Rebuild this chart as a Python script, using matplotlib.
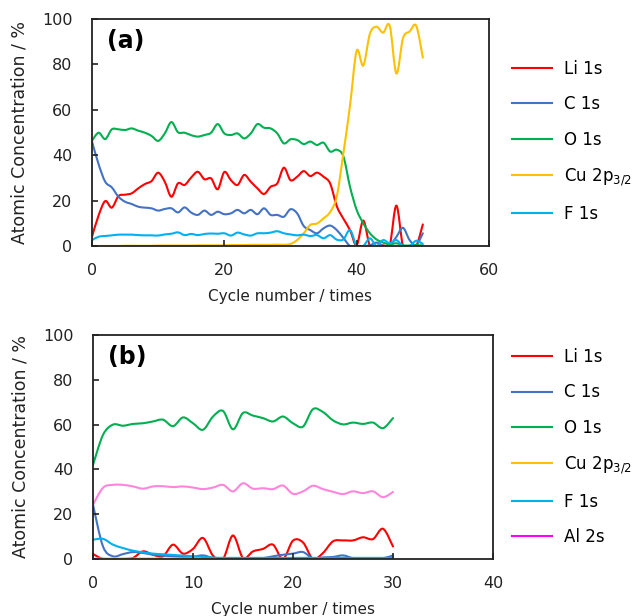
import matplotlib
matplotlib.use("Agg")
import matplotlib.pyplot as plt
from matplotlib.path import Path
from matplotlib.patches import PathPatch
from matplotlib.lines import Line2D

plt.rcParams['font.family'] = ['DejaVu Sans']
plt.rcParams['mathtext.fontset'] = 'dejavusans'

# ---------------- data: panel (a) ----------------
cycles_a = list(range(0, 51))
li_a = [4.1, 13.5, 19.8, 16.9, 22.0, 22.6, 23.2, 25.4, 27.3, 28.6, 32.3, 28.3, 21.7, 27.6, 26.9,
        30.2, 32.7, 29.4, 29.8, 25.0, 32.6, 29.0, 26.9, 31.3, 28.3, 25.4, 22.9, 26.1, 27.6, 34.5,
        29.0, 30.5, 33.0, 30.8, 32.3, 30.5, 27.5, 17.5, 12.0, 7.0, 0.4, 11.2, 0.0, 0.0, 0.3,
        0.3, 17.8, 0.0, 0.0, 0.0, 9.5]
c_a = [46.0, 36.0, 28.3, 25.8, 21.7, 19.5, 18.5, 17.3, 16.9, 16.6, 15.6, 16.3, 16.6, 14.8, 17.0,
       14.7, 13.7, 15.6, 13.7, 15.1, 14.0, 14.4, 15.9, 14.4, 15.9, 14.0, 16.6, 13.7, 13.7, 12.9,
       16.2, 14.4, 8.8, 7.0, 5.6, 7.8, 9.0, 7.0, 3.5, 0.0, 0.0, 0.0, 0.3, 1.5, 0.0,
       0.3, 4.0, 8.0, 2.6, 0.4, 5.6]
o_a = [46.4, 49.9, 47.1, 51.4, 51.4, 51.1, 51.8, 50.8, 49.9, 48.5, 46.3, 49.6, 54.6, 50.1, 49.9,
       48.8, 48.2, 48.9, 49.9, 53.7, 49.6, 48.9, 49.6, 47.4, 49.6, 53.7, 52.1, 51.8, 49.6, 45.2,
       47.0, 46.7, 44.9, 46.0, 44.5, 45.5, 41.6, 42.4, 39.4, 26.0, 15.9, 10.0, 5.6, 2.9, 1.5,
       0.7, 1.2, 0.3, 0.2, 0.4, 0.2]
cu_a = [0.0, 0.0, 0.0, 0.0, 0.0, 0.1, 0.1, 0.1, 0.1, 0.1, 0.2, 0.2, 0.2, 0.2, 0.2,
        0.2, 0.3, 0.3, 0.3, 0.3, 0.3, 0.4, 0.4, 0.4, 0.5, 0.5, 0.5, 0.5, 0.6, 0.5,
        0.9, 2.6, 5.6, 9.3, 9.9, 12.2, 15.0, 22.0, 41.0, 62.0, 86.0, 79.5, 93.5, 96.6, 94.0,
        97.0, 76.0, 91.5, 94.5, 97.0, 83.0]
f_a = [2.6, 4.1, 4.4, 4.7, 5.0, 5.0, 5.0, 4.8, 4.7, 4.7, 4.6, 5.1, 5.4, 6.0, 4.8,
       5.3, 4.8, 5.3, 5.5, 5.4, 5.6, 4.6, 5.9, 5.1, 4.6, 5.6, 5.6, 5.9, 6.5, 5.6,
       5.1, 4.7, 5.0, 4.4, 4.8, 3.4, 4.8, 2.8, 2.9, 7.0, 0.0, 0.0, 3.4, 0.0, 2.6,
       1.2, 2.6, 0.0, 0.0, 2.3, 0.9]

# ---------------- data: panel (b) ----------------
cycles_b = list(range(0, 31))
li_b = [2.2, 0.0, 0.0, 0.0, 0.5, 3.4, 1.9, 1.2, 6.4, 2.4, 4.5, 9.4, 1.5, 0.0, 10.5,
        0.5, 3.4, 4.5, 6.4, 0.0, 8.2, 7.4, 0.0, 2.7, 7.9, 8.3, 8.3, 9.7, 8.9, 13.5, 5.6]
c_b = [24.2, 5.6, 1.2, 2.2, 3.1, 2.7, 1.9, 1.5, 1.2, 0.9, 1.0, 1.6, 0.5, 0.4, 0.4,
       0.4, 0.4, 0.4, 1.2, 1.9, 2.4, 3.1, 0.2, 0.7, 0.9, 1.6, 0.4, 0.4, 0.3, 0.3, 1.6]
o_b = [42.0, 55.4, 60.0, 59.5, 60.3, 60.6, 61.4, 62.2, 59.3, 63.2, 60.6, 57.7, 63.6, 66.1, 57.9,
       65.2, 64.0, 62.9, 61.4, 63.6, 60.6, 59.1, 66.9, 65.6, 61.9, 60.1, 60.9, 60.3, 60.9, 58.4, 62.9]
cu_b = [0.2] * 31
f_b = [8.6, 9.0, 6.4, 4.9, 3.7, 3.0, 2.4, 2.1, 1.8, 1.5, 1.2, 0.9, 0.6, 0.5, 0.5,
       0.5, 0.5, 0.5, 0.5, 0.5, 0.5, 0.5, 0.5, 0.5, 0.5, 0.5, 0.5, 0.5, 0.5, 0.5, 0.5]
al_b = [24.2, 31.8, 33.1, 33.1, 32.4, 31.4, 32.4, 32.5, 32.1, 32.4, 31.9, 31.2, 31.9, 33.1, 30.2,
        33.8, 31.4, 31.6, 31.2, 32.8, 29.1, 30.2, 32.7, 31.2, 30.0, 29.0, 30.2, 29.4, 30.2, 27.6, 29.9]

labels = ['Li 1s', 'C 1s', 'O 1s', 'Cu 2p$_{3/2}$', 'F 1s', 'Al 2s']
colors = ['#FF0000', '#4472C4', '#00B050', '#FFC000', '#00B0F0', '#FF85DC']
legend_colors = ['#FF0000', '#4472C4', '#00B050', '#FFC000', '#00B0F0', '#FF00FF']
xticks_a = [0, 20, 40, 60]
xticks_b = [0, 10, 20, 30, 40]
yticks = [0, 20, 40, 60, 80, 100]

LW = 1.5
TICK_FS = 11.5
YLAB_FS = 12.5
XLAB_FS = 11
LEG_FS = 12
TXT = '#222222'


def smooth_line(ax, x, y, color):
    """Excel-like smoothed line: cubic Bezier segments through the data points."""
    n = len(x)
    verts = [(x[0], y[0])]
    codes = [Path.MOVETO]
    for i in range(n - 1):
        x0, y0 = (x[i - 1], y[i - 1]) if i > 0 else (x[i], y[i])
        x1, y1 = x[i], y[i]
        x2, y2 = x[i + 1], y[i + 1]
        x3, y3 = (x[i + 2], y[i + 2]) if i + 2 < n else (x2, y2)
        c1 = (x1 + (x2 - x0) / 6.0, y1 + (y2 - y0) / 6.0)
        c2 = (x2 - (x3 - x1) / 6.0, y2 - (y3 - y1) / 6.0)
        verts += [c1, c2, (x2, y2)]
        codes += [Path.CURVE4] * 3
    patch = PathPatch(Path(verts, codes), facecolor='none', edgecolor=color,
                      lw=LW, capstyle='round', joinstyle='round')
    ax.add_patch(patch)


def style_axes(ax, xlim, xticks):
    ax.set_xlim(*xlim)
    ax.set_ylim(0, 100)
    ax.set_xticks(xticks)
    ax.set_yticks(yticks)
    ax.tick_params(direction='in', length=4, width=1.2, colors=TXT,
                   labelsize=TICK_FS, labelcolor=TXT)
    ax.tick_params(axis='x', pad=12)
    ax.tick_params(axis='y', pad=14)
    for s in ax.spines.values():
        s.set_linewidth(1.3)
        s.set_color(TXT)
    ax.set_ylabel('Atomic Concentration / %', fontsize=YLAB_FS, color=TXT, labelpad=10)
    ax.set_xlabel('Cycle number / times', fontsize=XLAB_FS, color=TXT, labelpad=8)


fig = plt.figure(figsize=(6.36, 6.16), dpi=100)
ax1 = fig.add_axes([92 / 636, 1 - 246 / 616, 397 / 636, 227 / 616])
ax2 = fig.add_axes([93 / 636, 1 - 559 / 616, 400 / 636, 224 / 616])

series_a = [li_a, c_a, o_a, cu_a, f_a]
for ys, col in zip(series_a, colors[:5]):
    smooth_line(ax1, cycles_a, ys, col)
style_axes(ax1, (0, 60), xticks_a)
ax1.text(0.038, 0.955, '(a)', transform=ax1.transAxes, fontsize=17, fontweight='bold',
         va='top', ha='left')

series_b = [li_b, c_b, o_b, cu_b, f_b, al_b]
for ys, col in zip(series_b, colors):
    smooth_line(ax2, cycles_b, ys, col)
style_axes(ax2, (0, 40), xticks_b)
ax2.text(0.038, 0.955, '(b)', transform=ax2.transAxes, fontsize=17, fontweight='bold',
         va='top', ha='left')

handles_a = [Line2D([], [], color=c, lw=LW) for c in legend_colors[:5]]
handles_b = [Line2D([], [], color=c, lw=LW) for c in legend_colors]
leg_kw = dict(frameon=False, fontsize=LEG_FS, handlelength=2.4, handletextpad=0.7,
              labelspacing=1.04, loc='upper left', borderaxespad=0, borderpad=0)
fig.legend(handles_a, labels[:5], bbox_to_anchor=(512 / 636, 1 - 60 / 616), **leg_kw)
fig.legend(handles_b, labels, bbox_to_anchor=(512 / 636, 1 - 348 / 616), **leg_kw)

fig.savefig('out.png', dpi=100)
